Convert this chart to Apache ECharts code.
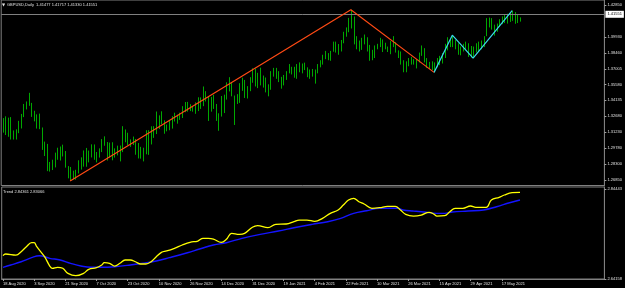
<!DOCTYPE html>
<html><head><meta charset="utf-8">
<script src="https://cdn.jsdelivr.net/npm/echarts@6/dist/echarts.min.js"></script>
<style>html,body{margin:0;padding:0;background:#000;}#c{width:625px;height:288px;}</style>
</head><body><div id="c"></div>
<script>
const symbolName = 'GBPUSD,Daily';
const lastOHLC = [1.41477, 1.41717, 1.41330, 1.41551];
const highs = [
1.3251,1.3267,1.3255,1.3260,1.3138,1.3148,1.3226,1.3289,1.3380,1.3403,
1.3482,1.3390,1.3318,1.3285,1.3292,1.3165,1.3036,1.3015,1.2850,1.2870,
1.2935,1.2980,1.2991,1.3008,1.2950,1.2812,1.2804,1.2770,1.2778,1.2865,
1.2892,1.2955,1.2978,1.2954,1.3011,1.3010,1.2941,1.2974,1.3059,1.3084,
1.3032,1.3027,1.3030,1.2974,1.2999,1.3000,1.3177,1.3147,1.3117,1.3056,
1.3082,1.3060,1.3023,1.2988,1.2980,1.3140,1.3140,1.3176,1.3177,1.3311,
1.3276,1.3313,1.3230,1.3192,1.3228,1.3268,1.3300,1.3282,1.3300,1.3360,
1.3398,1.3399,1.3378,1.3360,1.3395,1.3441,1.3440,1.3540,1.3497,1.3448,
1.3445,1.3464,1.3380,1.3295,1.3453,1.3465,1.3578,1.3625,1.3573,1.3457,
1.3470,1.3570,1.3620,1.3600,1.3543,1.3625,1.3706,1.3703,1.3665,1.3712,
1.3640,1.3622,1.3560,1.3680,1.3710,1.3710,1.3680,1.3628,1.3645,1.3680,
1.3745,1.3720,1.3720,1.3745,1.3760,1.3750,1.3758,1.3715,1.3695,1.3700,
1.3695,1.3745,1.3780,1.3830,1.3865,1.3845,1.3865,1.3950,1.3950,1.3928,
1.3965,1.4040,1.4080,1.4167,1.4241,1.4180,1.4000,1.3960,1.3985,1.4015,
1.3990,1.3920,1.3875,1.3915,1.3930,1.3985,1.3970,1.3940,1.3905,1.3955,
1.4000,1.3945,1.3870,1.3860,1.3780,1.3770,1.3800,1.3810,1.3790,1.3790,
1.3850,1.3915,1.3890,1.3800,1.3765,1.3770,1.3760,1.3800,1.3820,1.3845,
1.3930,1.3990,1.3970,1.4009,1.3965,1.3935,1.3905,1.3930,1.3950,1.3935,
1.3910,1.3905,1.3935,1.3950,1.3960,1.4000,1.4165,1.4170,1.4165,1.4105,
1.4115,1.4155,1.4180,1.4200,1.4205,1.4220,1.4234,1.4220,1.4200,1.41717
];
const lows = [
1.3118,1.3096,1.3080,1.3055,1.3055,1.3055,1.3113,1.3156,1.3260,1.3330,
1.3363,1.3262,1.3221,1.3155,1.3150,1.2960,1.2904,1.2766,1.2762,1.2776,
1.2800,1.2870,1.2863,1.2900,1.2798,1.2700,1.2676,1.2690,1.2688,1.2745,
1.2780,1.2807,1.2806,1.2846,1.2891,1.2870,1.2846,1.2890,1.2940,1.2998,
1.2863,1.2890,1.2865,1.2890,1.2910,1.2855,1.2940,1.3030,1.3005,1.2988,
1.3005,1.2916,1.2882,1.2880,1.2855,1.2920,1.2915,1.3010,1.3070,1.3105,
1.3152,1.3195,1.3108,1.3130,1.3140,1.3155,1.3220,1.3200,1.3235,1.3252,
1.3305,1.3310,1.3315,1.3310,1.3290,1.3315,1.3335,1.3360,1.3403,1.3225,
1.3310,1.3335,1.3225,1.3135,1.3265,1.3297,1.3420,1.3495,1.3450,1.3188,
1.3380,1.3390,1.3500,1.3435,1.3430,1.3497,1.3574,1.3540,1.3525,1.3550,
1.3530,1.3486,1.3450,1.3510,1.3630,1.3610,1.3580,1.3520,1.3550,1.3600,
1.3660,1.3650,1.3620,1.3610,1.3670,1.3660,1.3690,1.3625,1.3610,1.3630,
1.3566,1.3660,1.3715,1.3740,1.3790,1.3780,1.3775,1.3858,1.3850,1.3830,
1.3860,1.3935,1.3995,1.4036,1.4070,1.3925,1.3880,1.3860,1.3875,1.3925,
1.3860,1.3775,1.3780,1.3800,1.3880,1.3900,1.3855,1.3880,1.3855,1.3835,
1.3900,1.3850,1.3800,1.3740,1.3670,1.3670,1.3725,1.3740,1.3740,1.3705,
1.3760,1.3820,1.3760,1.3710,1.3700,1.3690,1.3669,1.3715,1.3735,1.3750,
1.3800,1.3870,1.3900,1.3900,1.3880,1.3830,1.3825,1.3860,1.3880,1.3810,
1.3805,1.3800,1.3850,1.3860,1.3880,1.3900,1.4000,1.4080,1.4060,1.4005,
1.4040,1.4085,1.4110,1.4120,1.4115,1.4130,1.4140,1.4113,1.4120,1.41330
];
const priceTicks = [1.42850, 1.39930, 1.38460, 1.37005, 1.35580, 1.34135, 1.32680, 1.31230, 1.29780, 1.28300, 1.26850];
const dateLabels = ['18 Aug 2020','3 Sep 2020','21 Sep 2020','7 Oct 2020','23 Oct 2020','10 Nov 2020','26 Nov 2020','14 Dec 2020','31 Dec 2020','19 Jan 2021','4 Feb 2021','22 Feb 2021','10 Mar 2021','26 Mar 2021','15 Apr 2021','29 Apr 2021','17 May 2021'];
const orangeZigzag = [[26,1.2676],[134,1.4241],[166,1.3669]];
const cyanZigzag = [[166,1.3669],[173,1.4009],[181,1.3800],[196,1.4234]];
const trendYellow = [[0,2.6941],[1,2.6979],[5,2.6956],[7,2.7031],[9,2.7143],[11,2.7234],[12,2.7234],[13,2.7143],[16,2.6918],[18,2.6708],[19,2.6657],[21,2.6680],[23,2.6657],[25,2.6544],[28,2.6490],[31,2.6544],[33,2.6634],[36,2.6670],[38,2.6731],[39,2.6783],[41,2.6770],[43,2.6708],[45,2.6770],[47,2.6844],[49,2.6844],[51,2.6805],[53,2.6754],[55,2.6754],[57,2.6805],[59,2.6918],[61,2.7017],[63,2.7047],[66,2.7108],[69,2.7182],[72,2.7243],[75,2.7272],[77,2.7333],[79,2.7333],[81,2.7317],[84,2.7243],[86,2.7310],[88,2.7445],[91,2.7423],[93,2.7445],[96,2.7581],[98,2.7617],[102,2.7572],[105,2.7648],[109,2.7655],[112,2.7707],[114,2.7745],[117,2.7745],[120,2.7716],[123,2.7784],[126,2.7896],[129,2.7971],[131,2.8083],[133,2.8196],[135,2.8234],[137,2.8158],[139,2.8106],[142,2.8009],[145,2.8023],[148,2.8054],[151,2.8054],[153,2.7971],[155,2.7874],[158,2.7835],[161,2.7858],[164,2.7919],[166,2.7874],[167,2.7835],[170,2.7842],[172,2.7932],[174,2.8009],[177,2.8009],[180,2.8061],[182,2.8032],[186,2.8032],[188,2.8196],[191,2.8257],[193,2.8309],[196,2.8361],[199,2.8370]];
const trendBlue = [[0,2.6679],[3,2.6731],[7,2.6805],[11,2.6896],[14,2.6941],[18,2.6882],[22,2.6844],[26,2.6769],[30,2.6708],[34,2.6679],[38,2.6679],[43,2.6693],[49,2.6731],[54,2.6770],[59,2.6821],[64,2.6896],[71,2.7008],[76,2.7098],[81,2.7182],[86,2.7234],[92,2.7333],[99,2.7423],[106,2.7497],[112,2.7572],[119,2.7648],[125,2.7707],[130,2.7784],[135,2.7896],[140,2.7955],[145,2.8009],[152,2.8009],[154,2.7971],[158,2.7948],[162,2.7926],[167,2.7896],[170,2.7896],[173,2.7926],[179,2.7948],[185,2.7971],[190,2.8045],[195,2.8135],[199,2.8196]];
const trendTitle = 'Trend 2.84361 2.83066';
const trendTicks = [2.84443, 2.64158];

const SLOTS = 232;
const LABEL_EVERY = 12;
const FONT = 'Liberation Sans';
const cats = Array.from({length: SLOTS}, (_, i) => String(i));
const isLabel = (idx) => idx % LABEL_EVERY === 0 && idx / LABEL_EVERY < dateLabels.length;
const barData = highs.map((h, i) => [i, lows[i], h]);

const chart = echarts.init(document.getElementById('c'), null, {renderer: 'canvas'});
chart.setOption({
  backgroundColor: '#000',
  animation: false,
  grid: [
    {left: 1.2, width: 603.2, top: 0, height: 185.5, show: true, borderColor: '#808080', borderWidth: 1},
    {left: 1.2, width: 603.2, top: 187, height: 92, show: true, borderColor: '#808080', borderWidth: 1}
  ],
  xAxis: [
    {gridIndex: 0, type: 'category', data: cats, boundaryGap: true, axisLine: {show: false}, axisTick: {show: false}, axisLabel: {show: false}, splitLine: {show: false}},
    {gridIndex: 1, type: 'category', data: cats, boundaryGap: true,
     axisLine: {show: true, lineStyle: {color: '#808080'}},
     axisTick: {show: true, length: 2, alignWithLabel: true, interval: (i) => isLabel(i), lineStyle: {color: '#a0a0a0'}},
     axisLabel: {show: true, interval: (i) => isLabel(i), formatter: (v, i) => dateLabels[i / LABEL_EVERY], fontSize: 4, fontFamily: FONT, color: '#e0e0e0', align: 'left', margin: 2.5},
     splitLine: {show: false}}
  ],
  yAxis: [
    {gridIndex: 0, type: 'value', position: 'right', min: 1.26347, max: 1.43307, scale: true,
     axisLine: {show: true, lineStyle: {color: '#808080'}},
     axisTick: {show: true, length: 2, customValues: priceTicks, lineStyle: {color: '#a0a0a0'}},
     axisLabel: {customValues: priceTicks, formatter: (v) => v.toFixed(5), fontSize: 4, fontFamily: FONT, color: '#e0e0e0', margin: 3},
     splitLine: {show: false}},
    {gridIndex: 1, type: 'value', position: 'right', min: 2.64158, max: 2.84894, scale: true,
     axisLine: {show: true, lineStyle: {color: '#808080'}},
     axisTick: {show: true, length: 2, customValues: trendTicks, lineStyle: {color: '#a0a0a0'}},
     axisLabel: {customValues: trendTicks, formatter: (v) => v.toFixed(5), fontSize: 4, fontFamily: FONT, color: '#e0e0e0', margin: 3},
     splitLine: {show: false}}
  ],
  series: [
    {type: 'custom', xAxisIndex: 0, yAxisIndex: 0, data: barData, encode: {x: 0, y: [1, 2]},
     renderItem: (params, api) => {
       const lo = api.coord([api.value(0), api.value(1)]);
       const hi = api.coord([api.value(0), api.value(2)]);
       const x = Math.round(lo[0]) + 0.5;
       return {type: 'line', shape: {x1: x, y1: lo[1], x2: x, y2: hi[1]}, style: {stroke: '#00a800', lineWidth: 1}};
     },
     markLine: {silent: true, symbol: 'none', data: [{yAxis: lastOHLC[3]}],
       lineStyle: {color: '#808080', type: 'solid', width: 1},
       label: {show: true, position: 'end', formatter: () => lastOHLC[3].toFixed(5), backgroundColor: '#ffffff', color: '#000', fontSize: 4, fontFamily: FONT, padding: [1.5, 2], distance: 1}}},
    {type: 'line', xAxisIndex: 0, yAxisIndex: 0, data: orangeZigzag, symbol: 'none', lineStyle: {color: '#ff4a14', width: 1.2}, z: 5},
    {type: 'line', xAxisIndex: 0, yAxisIndex: 0, data: cyanZigzag, symbol: 'none', lineStyle: {color: '#38d8ea', width: 1.2}, z: 5},
    {type: 'line', xAxisIndex: 1, yAxisIndex: 1, data: trendBlue, symbol: 'none', smooth: 0.4, lineStyle: {color: '#1414ff', width: 1.4}},
    {type: 'line', xAxisIndex: 1, yAxisIndex: 1, data: trendYellow, symbol: 'none', smooth: 0.4, lineStyle: {color: '#ffff00', width: 1.3}}
  ],
  graphic: [
    {type: 'text', left: 2, top: 2.5, style: {text: '▼', fill: '#e0e0e0', font: '4px "DejaVu Sans"'}},
    {type: 'text', left: 7, top: 2.5, style: {text: symbolName + '  ' + lastOHLC.map(v => v.toFixed(5)).join(' '), fill: '#e0e0e0', font: '4px "' + FONT + '"'}},
    {type: 'text', left: 3, top: 189.5, style: {text: trendTitle, fill: '#e0e0e0', font: '4px "' + FONT + '"'}}
  ]
});
</script>
</body></html>
